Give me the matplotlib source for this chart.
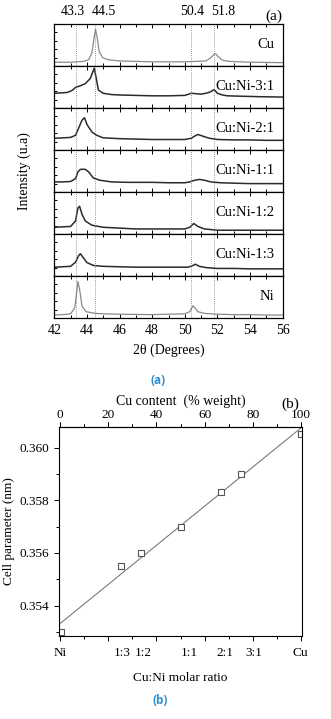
import numpy as np
import matplotlib
matplotlib.use("Agg")
import matplotlib.pyplot as plt

plt.rcParams['font.family'] = ['Liberation Serif', 'DejaVu Serif']

# ---------------------------------------------------------------------------
# (a) XRD patterns, intensity normalised to each panel (0 = bottom, 1 = top)
# ---------------------------------------------------------------------------
sample_names = ['Cu', 'Cu:Ni-3:1', 'Cu:Ni-2:1', 'Cu:Ni-1:1', 'Cu:Ni-1:2', 'Cu:Ni-1:3', 'Ni']

cu_tt = [42, 43, 43.8, 44.1, 44.3, 44.45, 44.53, 44.62, 44.75, 44.95, 45.3, 46, 48, 50,
         51.3, 51.6, 51.8, 51.9, 52.05, 52.3, 52.7, 54, 56]
cu_int = [0.09, 0.09, 0.11, 0.15, 0.30, 0.70, 0.87, 0.70, 0.35, 0.20, 0.15, 0.12, 0.10, 0.10,
          0.12, 0.20, 0.28, 0.29, 0.22, 0.14, 0.11, 0.09, 0.08]

cuni31_tt = [42, 42.4, 42.8, 43.1, 43.3, 43.6, 43.9, 44.2, 44.35, 44.45, 44.55, 44.7, 45, 45.5,
             46, 47, 48, 49, 50, 50.4, 50.7, 51, 51.4, 51.6, 51.8, 52.0, 52.3, 52.6, 53.5, 54.5, 56]
cuni31_int = [0.35, 0.36, 0.37, 0.42, 0.49, 0.53, 0.58, 0.70, 0.85, 0.95, 0.75, 0.43, 0.35, 0.32,
              0.31, 0.30, 0.29, 0.29, 0.30, 0.35, 0.34, 0.33, 0.36, 0.39, 0.44, 0.35, 0.31, 0.29, 0.28, 0.27, 0.26]

cuni21_tt = [42, 42.6, 43.0, 43.3, 43.5, 43.7, 43.85, 44.0, 44.3, 44.6, 45, 46, 47, 48, 49, 50,
             50.4, 50.6, 50.8, 51.1, 51.5, 52, 53, 54, 55, 56]
cuni21_int = [0.28, 0.29, 0.30, 0.35, 0.53, 0.71, 0.77, 0.61, 0.43, 0.35, 0.29, 0.27, 0.26, 0.25, 0.25, 0.25,
              0.28, 0.33, 0.37, 0.33, 0.28, 0.25, 0.24, 0.24, 0.23, 0.23]

cuni11_tt = [42, 42.5, 43.0, 43.3, 43.45, 43.6, 43.9, 44.1, 44.4, 44.8, 45.5, 46.5, 48, 49, 50,
             50.3, 50.6, 50.9, 51.2, 51.6, 52.2, 53, 54, 55, 56]
cuni11_int = [0.24, 0.24, 0.25, 0.32, 0.48, 0.54, 0.54, 0.48, 0.33, 0.28, 0.24, 0.23, 0.23, 0.22, 0.22,
              0.24, 0.28, 0.30, 0.28, 0.24, 0.22, 0.21, 0.20, 0.20, 0.20]

cuni12_tt = [42, 42.5, 43.0, 43.3, 43.45, 43.55, 43.7, 43.9, 44.3, 45, 46, 47, 48, 49, 50,
             50.3, 50.55, 50.8, 51.2, 52, 53, 54, 55, 56]
cuni12_int = [0.16, 0.17, 0.18, 0.31, 0.62, 0.66, 0.47, 0.31, 0.21, 0.16, 0.14, 0.12, 0.12, 0.12, 0.12,
              0.16, 0.25, 0.18, 0.12, 0.09, 0.09, 0.09, 0.09, 0.09]

cuni13_tt = [42, 42.5, 43.0, 43.3, 43.5, 43.6, 43.75, 44.0, 44.4, 45, 46, 47, 48, 49, 50.2,
             50.5, 50.65, 50.9, 51.3, 52, 53, 54, 55, 56]
cuni13_int = [0.21, 0.22, 0.23, 0.33, 0.49, 0.53, 0.45, 0.32, 0.25, 0.23, 0.22, 0.21, 0.21, 0.21, 0.21,
              0.25, 0.28, 0.23, 0.20, 0.18, 0.18, 0.17, 0.17, 0.17]

ni_tt = [42, 42.5, 43.0, 43.25, 43.38, 43.45, 43.55, 43.7, 43.95, 44.5, 45, 46, 48, 50,
         50.3, 50.5, 50.6, 50.8, 51.2, 52, 53, 54, 55, 56]
ni_int = [0.07, 0.08, 0.10, 0.24, 0.64, 0.87, 0.68, 0.28, 0.15, 0.11, 0.10, 0.09, 0.08, 0.10,
          0.15, 0.29, 0.25, 0.15, 0.11, 0.09, 0.08, 0.08, 0.07, 0.07]

patterns = [(cu_tt, cu_int), (cuni31_tt, cuni31_int), (cuni21_tt, cuni21_int),
            (cuni11_tt, cuni11_int), (cuni12_tt, cuni12_int), (cuni13_tt, cuni13_int),
            (ni_tt, ni_int)]
line_colors = ['#8a8a8a', '#2b2b2b', '#2b2b2b', '#2b2b2b', '#2b2b2b', '#2b2b2b', '#8a8a8a']
line_widths = [0.9, 1.1, 1.1, 1.1, 1.1, 1.1, 0.9]

ref_peaks = [43.3, 44.5, 50.4, 51.8]
# label nudges (points) so the two close pairs do not collide
ref_offsets = [-2, 6, 0.5, 6.5]

# ---------------------------------------------------------------------------
# (b) lattice parameter vs composition
# ---------------------------------------------------------------------------
cu_wt = [0.4, 25.4, 33.7, 50.2, 66.8, 75.0, 99.9]
cell_param = [0.3530, 0.35551, 0.3560, 0.3570, 0.3583, 0.3590, 0.36052]
ratio_pos = [0, 25.8, 34.5, 53.5, 68.5, 80.5, 100]
ratio_labels = ['Ni', '1:3', '1:2', '1:1', '2:1', '3:1', 'Cu']

W, H = 331, 719
fig = plt.figure(figsize=(W / 100, H / 100), dpi=100)

# --- (a) stacked panels ---
left_a, right_a = 54.3 / W, 282.7 / W
top_a, bot_a = 1 - 24 / H, 1 - 318 / H
ph = (top_a - bot_a) / len(sample_names)
axes_a = []
for i, (name, (tt, inten), col, lw) in enumerate(zip(sample_names, patterns, line_colors, line_widths)):
    ax = fig.add_axes([left_a, top_a - (i + 1) * ph, right_a - left_a, ph])
    ax.plot(tt, inten, color=col, lw=lw)
    for p in ref_peaks:
        ax.axvline(p, color='#777777', ls=(0, (1, 1.5)), lw=0.6)
    ax.set_xlim(42, 56)
    ax.set_ylim(0, 1)
    ax.set_xticks(np.arange(42, 57, 2))
    ax.set_xticks(np.arange(42, 57, 1), minor=True)
    ax.set_yticks([0.2, 0.4, 0.6, 0.8])
    ax.set_yticklabels([])
    ax.tick_params(axis='both', which='both', direction='in', top=True, length=3, width=0.7)
    ax.tick_params(axis='x', which='minor', length=2)
    ax.tick_params(axis='y', length=2)
    if i < len(sample_names) - 1:
        ax.set_xticklabels([])
    else:
        ax.tick_params(axis='x', labelsize=10, pad=4)
        ax.set_xlabel('2θ (Degrees)', fontsize=10, labelpad=5)
    for s in ax.spines.values():
        s.set_linewidth(0.9)
    ax.text(0.965, 0.52, name, transform=ax.transAxes, ha='right', va='center', fontsize=10.5)
    axes_a.append(ax)

for p, off in zip(ref_peaks, ref_offsets):
    axes_a[0].annotate(str(p), xy=(p, 1), xycoords=('data', 'axes fraction'),
                       xytext=(off, 4), textcoords='offset points',
                       ha='center', va='bottom', fontsize=10)
axes_a[0].text(1.0, 1.03, '(a)', transform=axes_a[0].transAxes, ha='right', va='bottom', fontsize=11)
fig.text(18 / W, (top_a + bot_a) / 2, 'Intensity (u.a)', rotation=90, ha='left', va='center', fontsize=10)

fig.text(158 / W, 1 - 381 / H, '(a)', color='#2a8fd1', fontsize=8.5, fontweight='bold',
         family=['Open Sans', 'DejaVu Sans'], ha='center', va='center')

# --- (b) cell parameter ---
axb = fig.add_axes([59 / W, 1 - 636 / H, (302 - 59) / W, (636 - 427) / H])
fit = np.polyfit(cu_wt, cell_param, 1)
xf = np.array([-0.5, 100.5])
axb.plot(xf, np.polyval(fit, xf), color='#7a7a7a', lw=0.8)
axb.plot(cu_wt, cell_param, ls='none', marker='s', ms=5, mfc='white', mec='#555555', mew=0.8)
axb.set_xlim(-0.5, 100.5)
axb.set_ylim(0.35285, 0.36078)
axb.set_yticks([0.354, 0.356, 0.358, 0.360])
axb.set_yticks([0.353, 0.355, 0.357, 0.359], minor=True)
axb.set_yticklabels(['0.354', '0.356', '0.358', '0.360'])
axb.set_xticks(np.arange(0, 101, 20))
axb.set_xticks(np.arange(10, 100, 20), minor=True)
axb.set_xticklabels([])
axb.tick_params(axis='both', which='both', direction='out', width=0.7, labelsize=9.5)
axb.tick_params(which='major', length=3.5)
axb.tick_params(which='minor', length=2)
axb.tick_params(axis='x', which='both', top=True)
for x, lab in zip(ratio_pos, ratio_labels):
    axb.annotate(lab, xy=(x, 0), xycoords=('data', 'axes fraction'), xytext=(0, -8),
                 textcoords='offset points', ha='center', va='top', fontsize=9.5)
axb.set_xlabel('Cu:Ni molar ratio', fontsize=9.5, labelpad=19)
axb.set_ylabel('Cell parameter (nm)', fontsize=9.5, labelpad=3)

axt = axb.secondary_xaxis('top')
axt.set_xticks(np.arange(0, 101, 20))
axt.set_xticks(np.arange(10, 100, 20), minor=True)
axt.tick_params(axis='x', which='both', direction='out', width=0.7, labelsize=9.5, pad=1)
axt.tick_params(which='major', length=3.5)
axt.tick_params(which='minor', length=2)
axt.set_xlabel('Cu content  (% weight)', fontsize=10, labelpad=3)
axb.text(0.99, (427 - 404) / 209 + 1, '(b)', transform=axb.transAxes, ha='right', va='center', fontsize=11)

fig.text(160 / W, 1 - 700 / H, '(b)', color='#2a8fd1', fontsize=8.5, fontweight='bold',
         family=['Open Sans', 'DejaVu Sans'], ha='center', va='center')

fig.savefig('out.png', dpi=100)
